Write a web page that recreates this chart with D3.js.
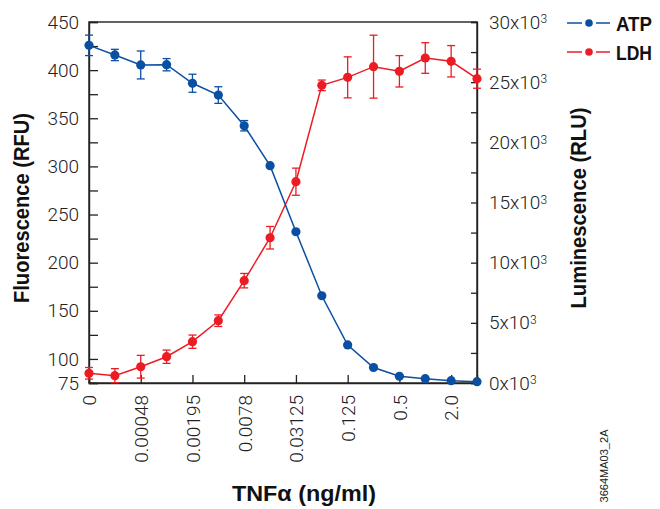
<!DOCTYPE html>
<html>
<head>
<meta charset="utf-8">
<script src="https://cdn.jsdelivr.net/npm/d3@7"></script>
<style>
  body { margin: 0; background: #fff; }
  svg { display: block; }
  .tick text { font-family: Roboto, "Liberation Sans", sans-serif; font-weight: 300; font-size: 19px; fill: #222; }
  .title { font-family: "Liberation Sans", Arial, sans-serif; font-weight: bold; font-size: 22px; fill: #111; }
</style>
</head>
<body>
<div id="chart"></div>
<script>
// TNF-alpha dilution series (2-fold steps), only every other one is labelled
var concLabels = ["0", "0.00024", "0.00048", "0.00098", "0.00195", "0.0039", "0.0078", "0.0156",
                  "0.03125", "0.0625", "0.125", "0.25", "0.5", "1.0", "2.0", "4.0"];
var labelledIdx = [0, 2, 4, 6, 8, 10, 12, 14];

// ATP, luminescence (RLU) - right axis
var atpRLU = [28060, 27260, 26430, 26450, 24910, 23930, 21380, 18060,
              12570, 7250, 3160, 1290, 560, 360, 190, 110];
var atpErr = [850, 470, 1160, 510, 750, 690, 430, 150, 100, 80, 60, 50, 40, 30, 30, 30];

// LDH, fluorescence (RFU) - left axis
var ldhRFU = [85.1, 82.6, 91.9, 102.3, 117.9, 139.7, 181.3, 225.9,
              284.1, 384.2, 392.5, 403.6, 398.8, 412.6, 409.2, 391.1];
var ldhErr = [6.0, 7.3, 11.8, 6.9, 6.9, 6.0, 7.5, 11.7, 14.1, 5.5, 21.3, 32.7, 16.3, 15.9, 16.3, 9.9];

var leftTicks = d3.range(75, 451, 25);
var rightTicks = d3.range(0, 30001, 2500);

var blue = "#0b4fa2", red = "#ec1c24";

var W = 660, H = 509;
var plot = {left: 89, right: 477, top: 22, bottom: 383};

var svg = d3.select("#chart").append("svg").attr("width", W).attr("height", H);

var x = d3.scalePoint().domain(d3.range(concLabels.length)).range([plot.left, plot.right]);
var yL = d3.scaleLinear().domain([75, 450]).range([plot.bottom, plot.top]);
var yR = d3.scaleLinear().domain([0, 30000]).range([plot.bottom, plot.top]);

// frame
svg.append("rect")
  .attr("x", plot.left).attr("y", plot.top)
  .attr("width", plot.right - plot.left).attr("height", plot.bottom - plot.top)
  .attr("fill", "none").attr("stroke", "#222").attr("stroke-width", 1.4);

// left axis
var gL = svg.append("g").attr("transform", "translate(" + plot.left + ",0)")
  .call(d3.axisLeft(yL).tickValues(leftTicks).tickSize(-9).tickPadding(10)
    .tickFormat(function(d) { return (d === 75 || d % 50 === 0) ? d : ""; }));

// right axis, labels like 25x10^3
var gR = svg.append("g").attr("transform", "translate(" + plot.right + ",0)")
  .call(d3.axisRight(yR).tickValues(rightTicks).tickSize(-6).tickPadding(12).tickFormat(""));
gR.selectAll(".tick text").each(function(d) {
  if (d % 5000 !== 0) return;
  var t = d3.select(this);
  t.append("tspan").text((d / 1000) + "x10");
  t.append("tspan").attr("dy", "-0.45em").style("font-size", "12px").text("3");
});

// bottom axis, rotated labels
var gB = svg.append("g").attr("transform", "translate(0," + plot.bottom + ")")
  .call(d3.axisBottom(x).tickValues(labelledIdx).tickSize(-8)
    .tickFormat(function(i) { return concLabels[i]; }));
gB.selectAll(".tick text")
  .attr("transform", "rotate(-90)")
  .attr("x", -12).attr("y", 0).attr("dy", "0.36em")
  .style("text-anchor", "end");

[gL, gR, gB].forEach(function(g) {
  g.select(".domain").attr("stroke", "#222").attr("stroke-width", 1.4);
  g.selectAll(".tick line").attr("stroke", "#222").attr("stroke-width", 1.3);
});

// draw one series: line, error bars, dots
function drawSeries(vals, errs, y, color) {
  var g = svg.append("g");
  g.append("path")
    .datum(vals)
    .attr("fill", "none").attr("stroke", color).attr("stroke-width", 1.5)
    .attr("d", d3.line().x(function(d, i) { return x(i); }).y(function(d) { return y(d); }));
  var eb = g.selectAll(".eb").data(vals).enter().append("g")
    .attr("stroke", color).attr("stroke-width", 1.3);
  eb.append("line")
    .attr("x1", function(d, i) { return x(i); }).attr("x2", function(d, i) { return x(i); })
    .attr("y1", function(d, i) { return y(d - errs[i]); }).attr("y2", function(d, i) { return y(d + errs[i]); });
  eb.append("line")
    .attr("x1", function(d, i) { return x(i) - 4; }).attr("x2", function(d, i) { return x(i) + 4; })
    .attr("y1", function(d, i) { return y(d + errs[i]); }).attr("y2", function(d, i) { return y(d + errs[i]); });
  eb.append("line")
    .attr("x1", function(d, i) { return x(i) - 4; }).attr("x2", function(d, i) { return x(i) + 4; })
    .attr("y1", function(d, i) { return y(d - errs[i]); }).attr("y2", function(d, i) { return y(d - errs[i]); });
  g.selectAll("circle").data(vals).enter().append("circle")
    .attr("cx", function(d, i) { return x(i); })
    .attr("cy", function(d) { return y(d); })
    .attr("r", 4.6).attr("fill", color);
}

drawSeries(ldhRFU, ldhErr, yL, red);
drawSeries(atpRLU, atpErr, yR, blue);

// axis titles
svg.append("text").attr("class", "title")
  .attr("transform", "translate(29,208) rotate(-90)")
  .attr("text-anchor", "middle")
  .attr("textLength", 190).attr("lengthAdjust", "spacingAndGlyphs")
  .text("Fluorescence (RFU)");

svg.append("text").attr("class", "title")
  .attr("transform", "translate(586,208) rotate(-90)")
  .attr("text-anchor", "middle")
  .attr("textLength", 201).attr("lengthAdjust", "spacingAndGlyphs")
  .text("Luminescence (RLU)");

svg.append("text").attr("class", "title")
  .attr("x", 232).attr("y", 501)
  .attr("textLength", 144).attr("lengthAdjust", "spacingAndGlyphs")
  .text("TNF\u03B1 (ng/ml)");

// legend
var legend = [{name: "ATP", color: blue, y: 23}, {name: "LDH", color: red, y: 52}];
var lg = svg.selectAll(".lg").data(legend).enter().append("g");
lg.append("line").attr("x1", 567).attr("x2", 582)
  .attr("y1", function(d) { return d.y; }).attr("y2", function(d) { return d.y; })
  .attr("stroke", function(d) { return d.color; }).attr("stroke-width", 1.5);
lg.append("line").attr("x1", 596).attr("x2", 610)
  .attr("y1", function(d) { return d.y; }).attr("y2", function(d) { return d.y; })
  .attr("stroke", function(d) { return d.color; }).attr("stroke-width", 1.5);
lg.append("circle").attr("cx", 589).attr("cy", function(d) { return d.y; })
  .attr("r", 3.8).attr("fill", function(d) { return d.color; });
lg.append("text").attr("class", "title")
  .attr("x", 616).attr("y", function(d) { return d.y + 8; })
  .attr("textLength", 36).attr("lengthAdjust", "spacingAndGlyphs")
  .style("font-size", "21px")
  .text(function(d) { return d.name; });

// figure code
svg.append("text")
  .attr("transform", "translate(608,466) rotate(-90)")
  .attr("text-anchor", "middle")
  .attr("textLength", 73).attr("lengthAdjust", "spacingAndGlyphs")
  .style("font-family", "'Liberation Sans', Arial, sans-serif").style("font-size", "10px").attr("fill", "#222")
  .text("3664MA03_2A");
</script>
</body>
</html>
